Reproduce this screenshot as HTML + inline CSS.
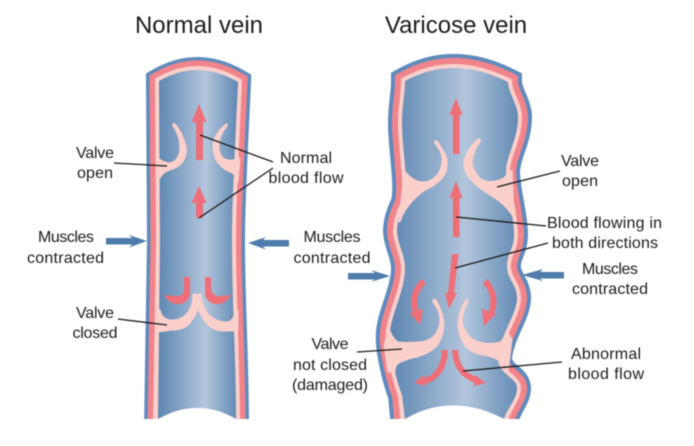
<!DOCTYPE html>
<html>
<head>
<meta charset="utf-8">
<style>
html,body{margin:0;padding:0;background:#fff}
svg{display:block;filter:blur(0.45px)}
text{font-family:"Liberation Sans",sans-serif;font-size:16px;fill:#1c1c1c;text-anchor:middle}
.t{font-size:24px}
.w{fill:none;stroke-linejoin:miter;stroke-miterlimit:6}
.v{fill:#fbd0cb;stroke:#fbd0cb;stroke-width:1;stroke-linejoin:round}
.a{fill:#ee6f78}
.c{fill:none;stroke:#ee6f78;stroke-width:6}
.b{fill:#4f7cab}
.l{stroke:#1a1a1a;stroke-width:1.3;fill:none}
</style>
</head>
<body>
<svg width="694" height="446" viewBox="0 0 694 446" xmlns="http://www.w3.org/2000/svg">
<defs>
<linearGradient id="g1" gradientUnits="userSpaceOnUse" x1="157" y1="0" x2="238" y2="0">
<stop offset="0" stop-color="#5c85b0"/><stop offset=".6" stop-color="#b3c6dc"/><stop offset="1" stop-color="#5f88b2"/>
</linearGradient>
<linearGradient id="g2" gradientUnits="userSpaceOnUse" x1="390" y1="0" x2="520" y2="0">
<stop offset="0" stop-color="#5c85b0"/><stop offset=".58" stop-color="#b3c6dc"/><stop offset="1" stop-color="#5f88b2"/>
</linearGradient>
<clipPath id="c"><rect x="0" y="0" width="694" height="419"/></clipPath>
<path id="p1" d="M157,428 L160,240 L159,81 Q198,58.500 238,82 C235,150 232,200 232,240 C232,300 236,360 236,428"/>
<path id="p2" d="M405,428 L402,395 C398,385 388,350 390,332 C392,312 405,290 405,268 C405,255 398,245 397,232 C397,222 400,213 404,205 C410,190 402,150 402,123 C402,105 405,95 405,81 Q453,54.500 508,82 C508,92 518,105 518,117 C518,140 506,155 506,172 C506,190 514,215 514,235 C514,250 506,255 507,268 C508,280 517,285 517,298 C517,315 499,335 498,360 C500,375 517,378 517,388 C517,400 505,408 503,428"/>
</defs>

<!-- Normal vein -->
<g clip-path="url(#c)">
<use href="#p1" class="w" stroke="#5f8bbd" stroke-width="26"/>
<use href="#p1" class="w" stroke="#f0848a" stroke-width="19"/>
<use href="#p1" class="w" stroke="#fbd0cb" stroke-width="8"/>
</g>
<path d="M158,419 L160,240 L159,81 Q198,58.500 238,82 C235,150 232,200 232,240 C232,300 236,360 236,419 Q198,397 158,419Z" fill="url(#g1)"/>
<path d="M158,419 Q198,397 236,419 L236,421 L158,421Z" fill="#fff"/>

<path class="v" d="M172.500,125 Q180,136 180,147 Q180,158 173,162 Q167,165 158,158 L158,178 L160,178 Q163,172 170,170 Q180,167 184,160 Q188,152 185,143 Q182,132 175,124 Q173,123 172.500,125Z"/>
<path class="v" d="M226,124 Q214,134 213,145 Q213,156 218,163 Q224,170 232,173 Q237,175 238,182 L240,158 Q230,162 223,158 Q218,152 219,145 Q220,134 227,126 Q228,123 226,124Z"/>
<path class="v" d="M158,308 L160,310 Q162,320 172,320 Q182,320 188,312 Q193,305 193,294 L196,294 L197,296 L198,294 L201,294 Q202,306 208,314 Q216,322 226,322 Q234,322 235,310 L238,310 L238,331 L223,331 Q210,331 203,318 Q199,312 198,308 Q196,316 190,323 Q184,330 172,330 L158,332Z"/>

<polygon class="a" points="199,104 206.500,122 203,122 203,160 196,160 196,122 191.500,122"/>
<polygon class="a" points="199,186 206.500,203 203,203 203,218 196,218 196,203 191.500,203"/>
<path class="a" d="M183.500,277 L190,277 L190,295 Q187,305 175,304 Q168,302 164,295 Q172,296 179,296 Q184,295 184,288Z"/>
<path class="a" d="M205,277 L211,277 L211,288 Q212,295 217,296 Q224,296 231,295 Q227,302 220,304 Q208,305 205,295Z"/>

<!-- Varicose vein -->
<g clip-path="url(#c)">
<use href="#p2" class="w" stroke="#5f8bbd" stroke-width="28"/>
<use href="#p2" class="w" stroke="#f0848a" stroke-width="20"/>
<use href="#p2" class="w" stroke="#fbd0cb" stroke-width="8"/>
</g>
<path d="M405,419 L402,395 C398,385 388,350 390,332 C392,312 405,290 405,268 C405,255 398,245 397,232 C397,222 400,213 404,205 C410,190 402,150 402,123 C402,105 405,95 405,81 Q453,54.500 508,82 C508,92 518,105 518,117 C518,140 506,155 506,172 C506,190 514,215 514,235 C514,250 506,255 507,268 C508,280 517,285 517,298 C517,315 499,335 498,360 C500,375 517,378 517,388 C517,400 507,408 504,419 Q452,392 405,419Z" fill="url(#g2)"/>
<path d="M405,419 Q452,392 504,419 L504,421 L405,421Z" fill="#fff"/>

<path class="v" d="M434.500,143 Q443,152 442,162 Q441,172 434,178 Q426,184 417,181 Q410,178 404,170 L399,222 L400,222 Q405,205 425,190 Q440,184 446,172 Q449,160 444,152 Q440,145 437,141 Q434,140 434.500,143Z"/>
<path class="v" d="M478,139 Q466,150 464,162 Q464,172 470,179 Q478,188 493,197 Q505,204 514,218 L512,170 Q506,176 502,179 Q490,184 481,179 Q473,172 472,162 Q473,151 480,142 Q481,138 478,139Z"/>
<path class="v" d="M433,302 Q439,310 440,318 Q440,328 435,335 Q428,342 418,342 Q405,343 398,342 Q392,338 389,328 L384,345 L388,372 L395,372 Q395,364 401,362 Q410,358 417,357 Q428,354 436,347 Q444,337 444,322 Q442,310 436,300 Q432,298 433,302Z"/>
<path class="v" d="M466,300 Q459,310 458,322 Q458,337 467,348 Q474,354 483,355 Q494,357 500,361 Q506,364 508,372 L512,340 L508,332 Q504,340 500,342 Q494,344 484,343 Q474,342 469,336 Q462,328 462,320 Q463,310 468,302 Q468,298 466,300Z"/>

<polygon class="a" points="456,98 462.500,115 459.500,115 459.500,154 453,154 453,115 449.500,115"/>
<polygon class="a" points="456,181 462.500,198 459.500,198 459.500,237 453,237 453,198 449.500,198"/>
<polygon class="a" points="452,254 458.500,254 454,293 457,293 449,309 445,293 448,293"/>
<path class="c" d="M424,281 Q409,295 417,315"/>
<polygon class="a" points="420,325 410,313 423,309"/>
<path class="c" d="M485,281 Q499,297 490,315"/>
<polygon class="a" points="484,326 482,309 496,314"/>
<path class="c" d="M445,350 Q444,375 425,381"/>
<polygon class="a" points="414,383 424,375 426,386"/>
<path class="c" d="M455,350 Q456,373 476,380"/>
<polygon class="a" points="486,383 475,375 474,386"/>

<!-- blue side arrows -->
<polygon class="b" points="106,238 132,238 129,235 147,241 129,247.500 132,244.500 106,244.500"/>
<polygon class="b" points="289,240 263,240 266,237 248,243 266,249.500 263,246.500 289,246.500"/>
<polygon class="b" points="348,273 375,273 371,270 390,276 371,282 375,279.500 348,279.500"/>
<polygon class="b" points="564,272 540,272 543,269 522,275 543,281 540,278.500 564,278.500"/>

<!-- leader lines -->
<line class="l" x1="114" y1="163" x2="167" y2="166"/>
<line class="l" x1="200" y1="135" x2="273" y2="162"/>
<line class="l" x1="199" y1="218" x2="273" y2="168"/>
<line class="l" x1="118" y1="319" x2="167" y2="325"/>
<line class="l" x1="497" y1="187" x2="560" y2="171"/>
<line class="l" x1="456" y1="217" x2="546" y2="226"/>
<line class="l" x1="455" y1="268" x2="548" y2="243"/>
<line class="l" x1="357" y1="352" x2="402" y2="349"/>
<line class="l" x1="463" y1="371" x2="562" y2="362"/>

<!-- labels -->
<text class="t" x="199" y="33">Normal vein</text>
<text class="t" x="456" y="33">Varicose vein</text>
<text x="95" y="158" textLength="38">Valve</text><text x="95" y="178" textLength="36">open</text>
<text x="66" y="242" textLength="56">Muscles</text><text x="65.500" y="263" textLength="77">contracted</text>
<text x="95" y="318" textLength="38">Valve</text><text x="95" y="338" textLength="45">closed</text>
<text x="306" y="163" textLength="52">Normal</text><text x="306" y="183" textLength="75">blood flow</text>
<text x="332" y="242" textLength="57">Muscles</text><text x="332" y="263" textLength="77">contracted</text>
<text x="580" y="166" textLength="38">Valve</text><text x="580" y="186" textLength="36">open</text>
<text x="604.500" y="228" textLength="115">Blood flowing in</text><text x="605" y="248" textLength="106">both directions</text>
<text x="610" y="274" textLength="56">Muscles</text><text x="610" y="294" textLength="76">contracted</text>
<text x="330" y="349" textLength="37">Valve</text><text x="330" y="370" textLength="74">not closed</text><text x="330" y="390" textLength="76">(damaged)</text>
<text x="606" y="359" textLength="70">Abnormal</text><text x="606" y="379" textLength="76">blood flow</text>
</svg>
</body>
</html>
